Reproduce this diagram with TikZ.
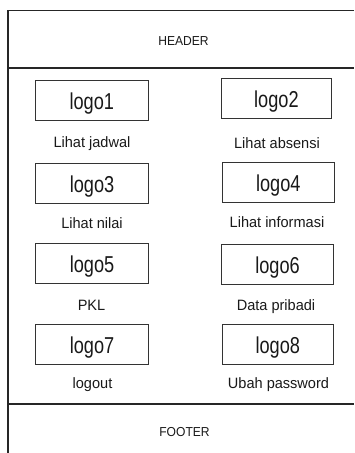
\documentclass[tikz,border=0pt]{standalone}
\usepackage{fontspec}
\setmainfont{Liberation Sans}
\begin{document}
\begin{tikzpicture}[x=1pt,y=-1pt,
  frame/.style={line width=1.1pt, draw=black!85},
  logobox/.style={draw=black!80, line width=0.9pt, minimum height=40pt, inner sep=0pt,
    text height=18pt, text depth=0pt,
    font=\fontsize{23}{26}\selectfont, text=black!90},
  caption/.style={anchor=base, inner sep=0pt, font=\fontsize{15}{18}\selectfont, text=black!90},
  band/.style={anchor=base, inner sep=0pt, font=\fontsize{13}{15}\selectfont, text=black!90}]
  \useasboundingbox (0,0) rectangle (354,453);

  % page frame: left edge, top edge, header and footer separators
  \draw[frame] (354,10.7) -- (8,10.7) -- (8,453);
  \draw[frame] (8,68) -- (354,68);
  \draw[frame] (8,404) -- (354,404);

  \node[band] (header) at (183.5,45) {\scalebox{0.93}[1]{HEADER}};
  \node[band] (footer) at (184.5,436) {\scalebox{0.93}[1]{FOOTER}};

  % left column of menu tiles
  \node[logobox, minimum width=112.5pt] (logo1) at (91.8,100) {\scalebox{0.79}[1]{logo1}};
  \node[logobox, minimum width=112.5pt] (logo3) at (92,183.3) {\scalebox{0.79}[1]{logo3}};
  \node[logobox, minimum width=112.5pt] (logo5) at (92,263.3) {\scalebox{0.79}[1]{logo5}};
  \node[logobox, minimum width=112.5pt] (logo7) at (92,344) {\scalebox{0.79}[1]{logo7}};

  % right column of menu tiles
  \node[logobox, minimum width=110.7pt] (logo2) at (276.4,98.7) {\scalebox{0.79}[1]{logo2}};
  \node[logobox, minimum width=112pt] (logo4) at (278.3,182.3) {\scalebox{0.79}[1]{logo4}};
  \node[logobox, minimum width=111.6pt] (logo6) at (277.5,264.5) {\scalebox{0.79}[1]{logo6}};
  \node[logobox, minimum width=111pt] (logo8) at (277.8,344) {\scalebox{0.79}[1]{logo8}};

  % captions under the tiles
  \node[caption] (cap1) at (92,147) {\scalebox{0.97}[1]{Lihat jadwal}};
  \node[caption] (cap2) at (277,148) {\scalebox{0.97}[1]{Lihat absensi}};
  \node[caption] (cap3) at (92,228) {\scalebox{0.97}[1]{Lihat nilai}};
  \node[caption] (cap4) at (277,227) {\scalebox{0.97}[1]{Lihat informasi}};
  \node[caption] (cap5) at (91.5,310) {\scalebox{0.97}[1]{PKL}};
  \node[caption] (cap6) at (276,310) {\scalebox{0.97}[1]{Data pribadi}};
  \node[caption] (cap7) at (92.5,388) {\scalebox{0.97}[1]{logout}};
  \node[caption] (cap8) at (278.5,388) {\scalebox{0.97}[1]{Ubah password}};
\end{tikzpicture}
\end{document}
